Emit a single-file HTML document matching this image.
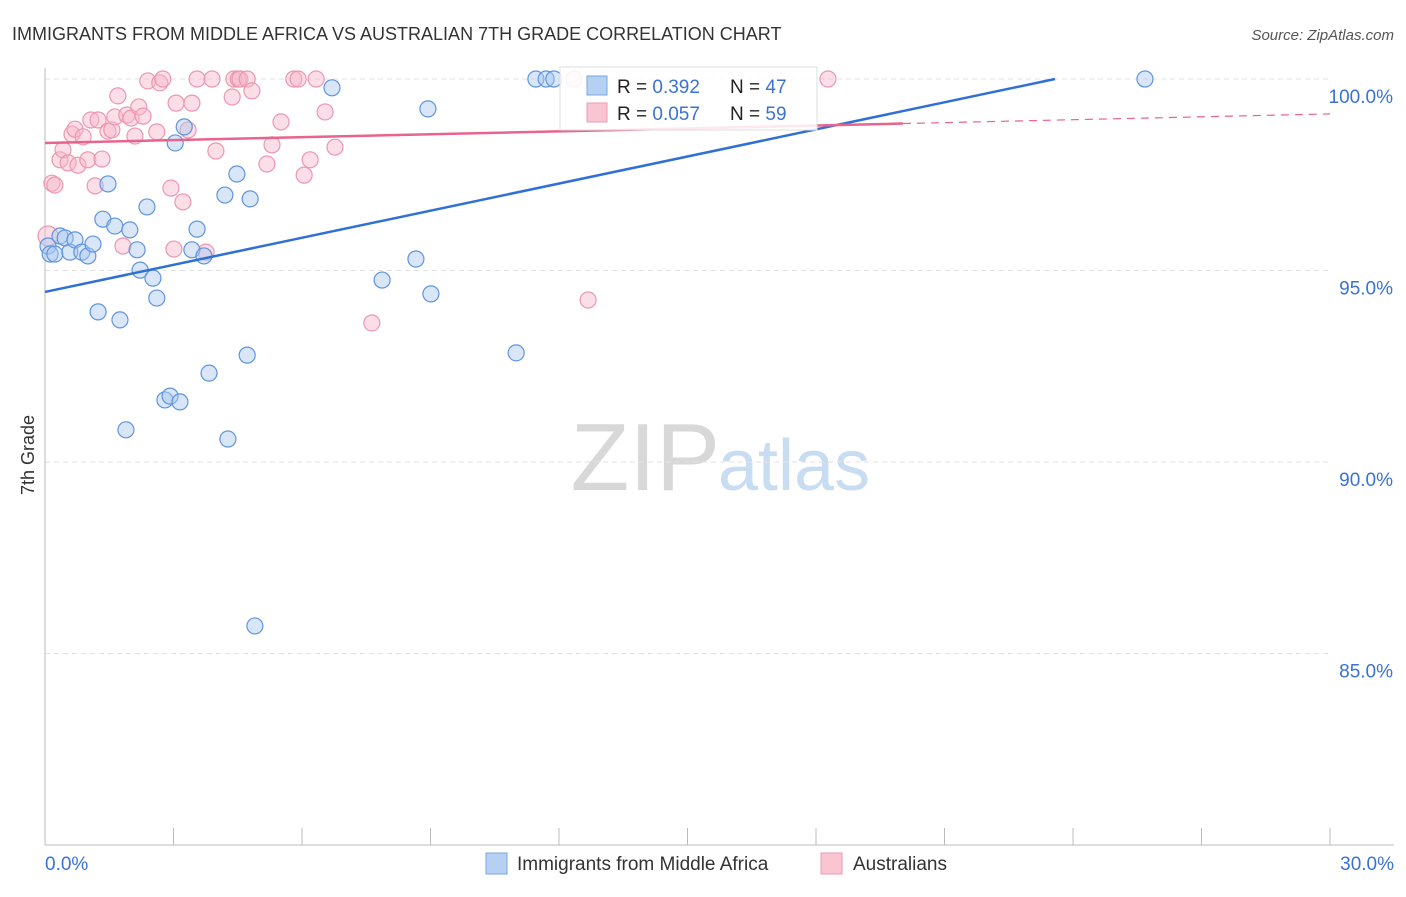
<!DOCTYPE html>
<html><head><meta charset="utf-8"><style>
body{margin:0;background:#fff;font-family:"Liberation Sans",sans-serif}
svg text{font-family:"Liberation Sans",sans-serif}
</style></head><body>
<svg id="c" width="1406" height="892">
<text x="12" y="40" font-size="18" fill="#333">IMMIGRANTS FROM MIDDLE AFRICA VS AUSTRALIAN 7TH GRADE CORRELATION CHART</text>
<text x="1394" y="40" font-size="15" fill="#555" font-style="italic" text-anchor="end">Source: ZipAtlas.com</text>
<text x="720" y="490" font-size="96" fill="#d8d8d8" text-anchor="end" font-family="Liberation Serif">ZIP</text>
<text x="718" y="490" font-size="72" fill="#c8dcf2">atlas</text>
<text x="34" y="455" font-size="18" fill="#333" transform="rotate(-90 34 455)" text-anchor="middle">7th Grade</text>
<g id="grid"></g><g id="axes"></g><g id="pts"></g><g id="lines"></g>
<g>
<rect x="560" y="67" width="257" height="63" fill="#fff" fill-opacity="0.85" stroke="#ddd"/>
<rect x="587" y="76" width="20" height="19" fill="#b6d0f2" stroke="#7aa6e0"/>
<rect x="587" y="103" width="20" height="19" fill="#f9c5d3" stroke="#ee9ab2"/>
<text x="617" y="93" font-size="19" fill="#222">R = <tspan fill="#3a72d6">0.392</tspan></text>
<text x="730" y="93" font-size="19" fill="#222">N = <tspan fill="#3a72d6">47</tspan></text>
<text x="617" y="120" font-size="19" fill="#222">R = <tspan fill="#3a72d6">0.057</tspan></text>
<text x="730" y="120" font-size="19" fill="#222">N = <tspan fill="#3a72d6">59</tspan></text>
</g>
<g>
<rect x="486" y="853" width="21" height="21" fill="#b6d0f2" stroke="#7aa6e0"/>
<text x="517" y="870" font-size="19" fill="#333">Immigrants from Middle Africa</text>
<rect x="821" y="853" width="21" height="21" fill="#f9c5d3" stroke="#ee9ab2"/>
<text x="853" y="870" font-size="19" fill="#333">Australians</text>
</g>
</svg>
<script>
const blueX=[0.07,0.12,0.23,0.35,0.47,0.58,0.70,0.86,1.00,1.12,1.24,1.35,1.47,1.63,1.75,1.89,1.98,2.15,2.22,2.38,2.52,2.61,2.80,2.92,3.04,3.15,3.25,3.43,3.55,3.71,3.83,4.20,4.27,4.48,4.72,4.79,4.90,6.70,7.87,8.66,8.94,9.01,11.00,11.46,11.70,11.88,25.68];
const blueY=[95.64,95.43,95.43,95.90,95.85,95.48,95.80,95.48,95.38,95.69,93.92,96.34,97.26,96.16,93.71,90.84,96.06,95.54,95.01,96.66,94.80,94.28,91.62,91.72,98.33,91.57,98.75,95.54,96.08,95.38,92.32,96.97,90.60,97.52,92.79,96.87,85.72,99.77,94.75,95.30,99.22,94.39,92.85,100,100,100,100];
const pinkX=[0.07,0.16,0.23,0.35,0.42,0.54,0.63,0.70,0.77,0.89,1.00,1.07,1.17,1.24,1.33,1.47,1.56,1.63,1.70,1.82,1.91,2.01,2.10,2.19,2.29,2.40,2.61,2.68,2.75,2.94,3.01,3.06,3.22,3.34,3.43,3.55,3.76,3.90,3.99,4.37,4.41,4.51,4.55,4.72,4.83,5.18,5.30,5.51,5.81,5.91,6.05,6.19,6.33,6.54,6.77,7.63,12.35,12.68,18.28];
const pinkY=[95.90,97.28,97.23,97.89,98.15,97.81,98.56,98.69,97.75,98.49,97.89,98.93,97.21,98.93,97.91,98.64,98.67,99.01,99.56,95.64,99.06,98.98,98.51,99.27,99.03,99.95,98.62,99.90,100,97.15,95.56,99.37,96.79,98.67,99.37,100,95.48,100,98.12,99.53,100,100,100,100,99.69,97.78,98.28,98.88,100,100,97.49,97.89,100,99.14,98.22,93.63,100,94.23,100];
const yTicks=[100,95,90,85];
const yTickLabels=["100.0%","95.0%","90.0%","85.0%"];
const blueTrend=[94.44,0.2358];
const pinkTrend=[98.33,0.0253,20.03];
const X=v=>45+v/30*1285, Y=v=>79+(100-v)*38.3;
const NS="http://www.w3.org/2000/svg";
function mk(p,t,a){const e=document.createElementNS(NS,t);for(const k in a)e.setAttribute(k,a[k]);document.getElementById(p).appendChild(e);return e;}
yTicks.forEach((t,i)=>{
 const l=mk('grid','line',{x1:45,x2:1330,y1:Y(t),y2:Y(t),stroke:'#e2e2e2','stroke-dasharray':'5,4'});
 
 
 const tx=mk('grid','text',{x:1393,y:Y(t)+24,'font-size':19,fill:'#3a72d6','text-anchor':'end'});
 tx.textContent=yTickLabels[i];
 
 
});
mk('axes','line',{x1:45,x2:45,y1:68,y2:845,stroke:'#bbb'});
mk('axes','line',{x1:45,x2:1394,y1:845,y2:845,stroke:'#bbb'});
for(let i=0;i<=10;i++){const x=X(i*3);mk('axes','line',{x1:x,x2:x,y1:828,y2:845,stroke:'#bbb'});}
const t0=mk('axes','text',{x:45,y:870,'font-size':19,fill:'#3a72d6'});t0.textContent='0.0%';


const t1=mk('axes','text',{x:1394,y:870,'font-size':19,fill:'#3a72d6','text-anchor':'end'});t1.textContent='30.0%';


pinkX.forEach((x,i)=>{const c=mk('pts','circle',{cx:X(x),cy:Y(pinkY[i]),r:i==0?10:8,fill:'#f7b6c9','fill-opacity':0.45,stroke:'#ec97b0','stroke-width':1.2});
 
 });
blueX.forEach((x,i)=>{const c=mk('pts','circle',{cx:X(x),cy:Y(blueY[i]),r:8,fill:'#a9c8f0','fill-opacity':0.45,stroke:'#5f94e0','stroke-width':1.2});
 
 });
const bx1=(100-blueTrend[0])/blueTrend[1];
const bl=mk('lines','line',{x1:X(0),y1:Y(blueTrend[0]),x2:X(bx1),y2:Y(100),stroke:'#2f6fd6','stroke-width':2.5});


const pl=mk('lines','line',{x1:X(0),y1:Y(pinkTrend[0]),x2:X(pinkTrend[2]),y2:Y(pinkTrend[0]+pinkTrend[1]*pinkTrend[2]),stroke:'#e8648c','stroke-width':2.5});


const pd=mk('lines','line',{x1:X(pinkTrend[2]),y1:Y(pinkTrend[0]+pinkTrend[1]*pinkTrend[2]),x2:X(30),y2:Y(pinkTrend[0]+pinkTrend[1]*30),stroke:'#e8648c','stroke-width':1.2,'stroke-dasharray':'8,6'});


</script>
</body></html>
